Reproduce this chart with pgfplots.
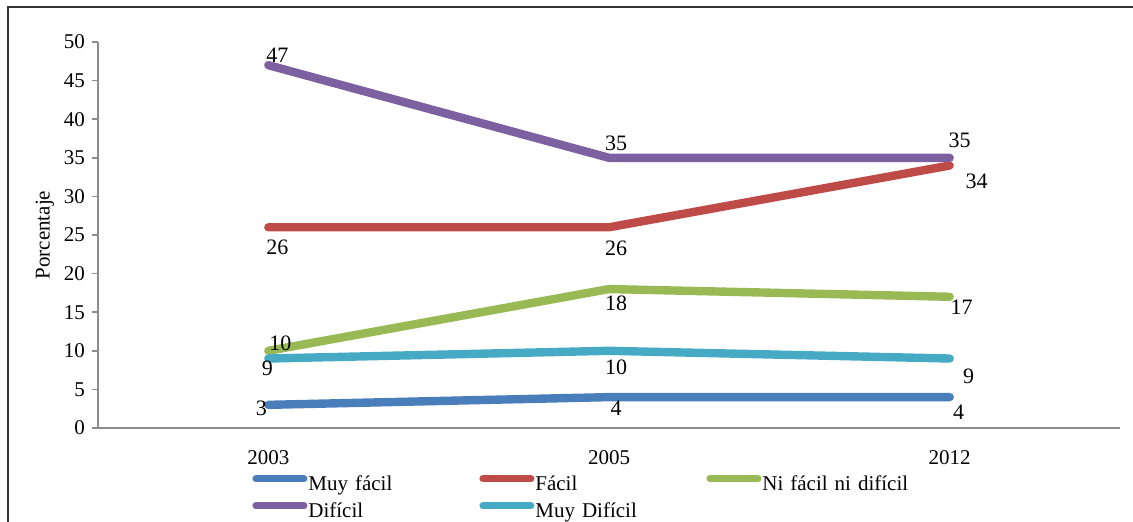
\documentclass[border=0pt]{standalone}
\usepackage{fontspec}
\setmainfont{Liberation Serif}
\usepackage{pgfplots}
\pgfplotsset{compat=1.18}
\usepackage{pgfplotstable}

\definecolor{cMF}{HTML}{4A7EBB}
\definecolor{cF}{HTML}{BE4B48}
\definecolor{cN}{HTML}{98B954}
\definecolor{cD}{HTML}{7D60A0}
\definecolor{cMD}{HTML}{46AAC5}
\definecolor{axisgray}{HTML}{8C8C8C}

\pgfplotstableread{
x y
0 3
1 4
2 4
}\muyfacil
\pgfplotstableread{
x y
0 26
1 26
2 34
}\facil
\pgfplotstableread{
x y
0 10
1 18
2 17
}\nifacil
\pgfplotstableread{
x y
0 47
1 35
2 35
}\dificil
\pgfplotstableread{
x y
0 9
1 10
2 9
}\muydificil

\pgfplotsset{
  lbl/.style n args={6}{
    coordinate style/.condition={x==0}{xshift=#1pt, yshift=#2pt},
    coordinate style/.condition={x==1}{xshift=#3pt, yshift=#4pt},
    coordinate style/.condition={x==2}{xshift=#5pt, yshift=#6pt},
  },
  serie/.style={#1, line width=4.2pt, line cap=round, line join=round, nodes near coords},
}

\begin{document}
\begin{tikzpicture}
\useasboundingbox (-49pt,-46.5pt) rectangle (517.5pt,214pt);
\begin{axis}[
  at={(0,0)}, anchor=south west, scale only axis,
  width=511pt, height=193pt,
  xmin=-0.5, xmax=2.5, ymin=0, ymax=50,
  xtick={0,1,2}, xticklabels={2003,2005,2012},
  ytick={0,5,...,50},
  axis x line*=bottom, axis y line*=left,
  axis line style={color=axisgray, line width=1pt},
  xtick style={draw=none},
  ytick style={color=axisgray, line width=0.8pt},
  tick align=outside, major tick length=3pt,
  /pgf/number format/assume math mode=true,
  tick label style={font=\fontsize{10.5}{12}\selectfont, text=black},
  xticklabel style={yshift=-4.5pt},
  ylabel={Porcentaje},
  every axis y label/.style={at={(axis description cs:0,0.5)}, rotate=90, anchor=center, yshift=26.5pt, font=\fontsize{10.5}{12}\selectfont},
  every node near coord/.append style={font=\fontsize{11}{13}\selectfont, text=black, anchor=center},
  legend columns=3,
  legend cell align=left,
  legend style={draw=none, fill=none, inner sep=0pt, column sep=0pt, row sep=2pt,
    at={(axis description cs:0.1507,-0.118)}, anchor=north west,
    nodes={font=\fontsize{10.5}{12}\selectfont, text height=8pt, text depth=2.5pt, inner sep=0.5pt, text width=85pt, align=left}},
  legend image code/.code={\draw[#1, line width=3.5pt, line cap=round] (1.75pt,3.3pt) -- (25.75pt,3.3pt);},
]
\addplot[serie=cMF, lbl={-3.5}{-1.5}{3.5}{-5.5}{4.5}{-7.5}] table[x=x,y=y] {\muyfacil};
\addlegendentry{Muy fácil}
\addplot[serie=cF, lbl={4.5}{-10}{3.5}{-10.5}{13.5}{-8}] table[x=x,y=y] {\facil};
\addlegendentry{Fácil}
\addplot[serie=cN, lbl={6}{4}{3.5}{-7}{6}{-5}] table[x=x,y=y] {\nifacil};
\addlegendentry{Ni fácil ni difícil}
\addplot[serie=cD, lbl={4.5}{5}{3.5}{7}{5}{8.5}] table[x=x,y=y] {\dificil};
\addlegendentry{Difícil}
\addplot[serie=cMD, lbl={-0.5}{-5}{3.5}{-8}{9.5}{-9}] table[x=x,y=y] {\muydificil};
\addlegendentry{Muy Difícil}
\end{axis}
\draw[line width=1.2pt, black!80] (-45pt,-50pt) -- (-45pt,210.5pt) -- (520pt,210.5pt);
\end{tikzpicture}
\end{document}
